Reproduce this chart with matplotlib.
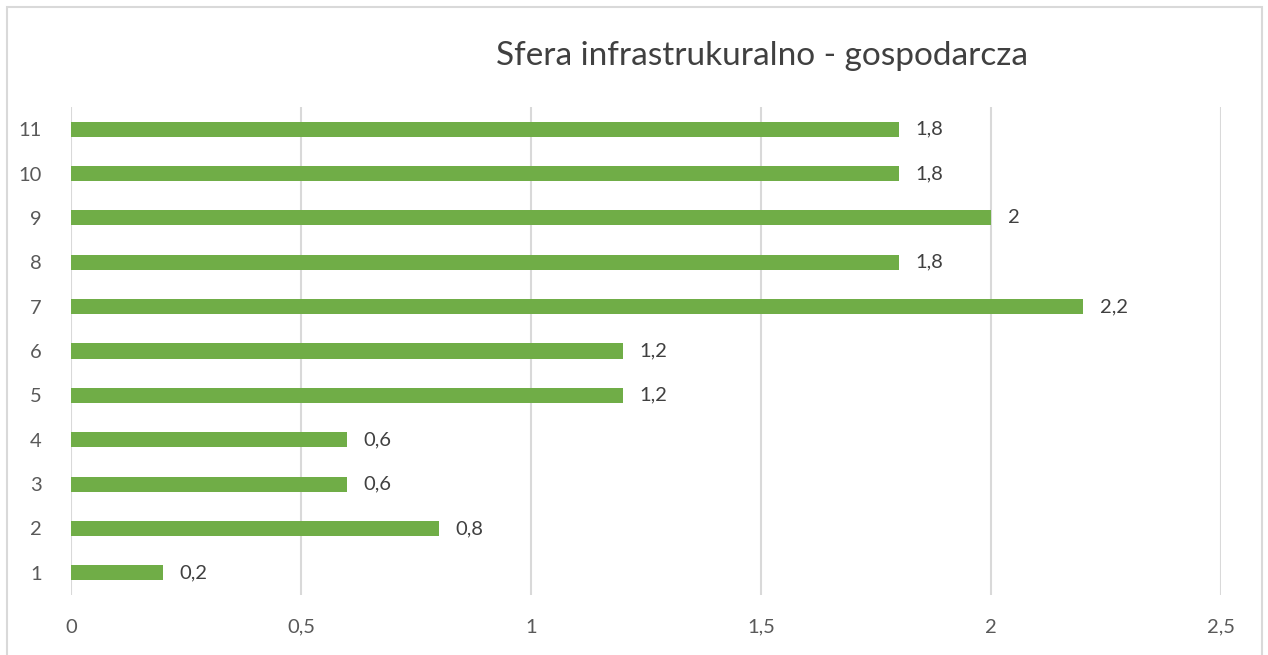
import matplotlib
matplotlib.use('Agg')
import matplotlib.pyplot as plt
from matplotlib.patches import Rectangle

categories = ['1', '2', '3', '4', '5', '6', '7', '8', '9', '10', '11']
values = [0.2, 0.8, 0.6, 0.6, 1.2, 1.2, 2.2, 1.8, 2.0, 1.8, 1.8]
x_ticks = [0, 0.5, 1, 1.5, 2, 2.5]
title = 'Sfera infrastrukuralno - gospodarcza'

def pl(v):
    s = ('%g' % v)
    return s.replace('.', ',')

plt.rcParams['font.family'] = ['Lato', 'DejaVu Sans']
fig = plt.figure(figsize=(12.68, 6.55), dpi=100)
ax = fig.add_axes([71/1268, 1-595/655, 1150/1268, 488/655])

pos = list(range(len(categories)))
ax.barh(pos, values, height=0.34, color='#70ad47', zorder=3)
for p, v in zip(pos, values):
    ax.text(v + 0.036, p, pl(v), va='center', ha='left', fontsize=14.5, color='#404040')

ax.set_xlim(0, 2.5)
ax.set_ylim(-0.5, len(categories) - 0.5)
ax.set_xticks(x_ticks)
ax.set_xticklabels([pl(t) for t in x_ticks])
ax.set_yticks(pos)
ax.set_yticklabels(categories)
ax.tick_params(length=0, labelsize=14.5, labelcolor='#595959')
ax.tick_params(axis='x', pad=17)
ax.tick_params(axis='y', pad=21)
ax.grid(axis='x', color='#d9d9d9', linewidth=1.5, zorder=0)
for s in ax.spines.values():
    s.set_visible(False)

fig.text(762/1268, 1-56/655, title, ha='center', va='center', fontsize=24, color='#404040')
fig.patches.append(Rectangle((7/1268, -0.1), 1255/1268, 1.1 - 7/655, transform=fig.transFigure,
                             fill=False, edgecolor='#d9d9d9', linewidth=1.5))

fig.savefig('out.png')
